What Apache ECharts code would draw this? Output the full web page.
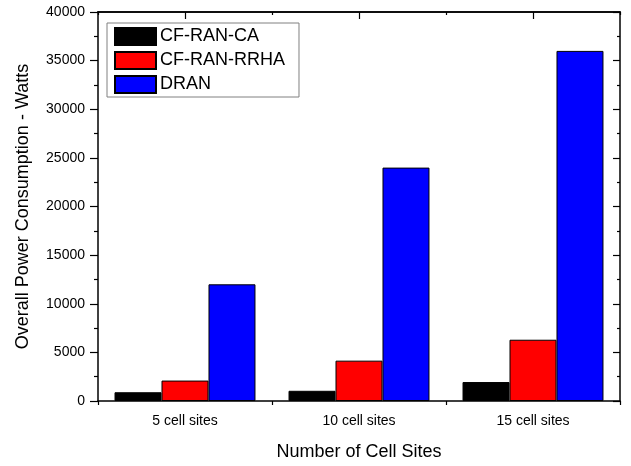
<!DOCTYPE html>
<html>
<head>
<meta charset="utf-8">
<script src="https://cdn.jsdelivr.net/npm/echarts@6/dist/echarts.min.js"></script>
<style>
  html, body { margin: 0; padding: 0; background: #fff; }
  #chart { width: 631px; height: 466px; }
</style>
</head>
<body>
<div id="chart"></div>
<script>
// data
const categories = ['5 cell sites', '10 cell sites', '15 cell sites'];
const seriesNames = ['CF-RAN-CA', 'CF-RAN-RRHA', 'DRAN'];
const caValues = [900, 1050, 1950];
const rrhaValues = [2100, 4150, 6300];
const dranValues = [12000, 24000, 36000];
const colors = ['#000000', '#ff0000', '#0000ff'];

const font = 'Liberation Sans, Arial, sans-serif';
const chart = echarts.init(document.getElementById('chart'));

const hidden = { show: false };
// extra category axes, only for the small ticks on the frame
function extraX(position, align, len, inside) {
  return {
    type: 'category', data: categories, position: position,
    axisLine: { show: position === 'top', lineStyle: { color: '#000', width: 1.5 } },
    axisLabel: hidden, splitLine: hidden,
    axisTick: { show: true, alignWithLabel: align, inside: inside, length: len, lineStyle: { color: '#000', width: 1.2 } }
  };
}

const mkSeries = (name, data, i) => ({
  name: name,
  type: 'bar',
  data: data,
  barGap: '0%',
  barCategoryGap: '19%',
  itemStyle: { color: colors[i], borderColor: '#000', borderWidth: 1 }
});

const option = {
  animation: false,
  backgroundColor: '#fff',
  textStyle: { fontFamily: font },
  grid: { left: 98, right: 11, top: 12, bottom: 64, containLabel: false },
  legend: {
    orient: 'vertical',
    left: 107, top: 23,
    data: seriesNames,
    icon: 'rect',
    itemWidth: 41, itemHeight: 17, itemGap: 5,
    padding: [4, 14, 3, 7],
    borderColor: '#808080', borderWidth: 1,
    textStyle: { fontFamily: font, fontSize: 18, color: '#000', lineHeight: 17, padding: [0, 0, 0, -1] }
  },
  xAxis: [
    {
      type: 'category', data: categories, position: 'bottom',
      name: 'Number of Cell Sites', nameLocation: 'middle', nameGap: 42,
      nameTextStyle: { fontFamily: font, fontSize: 18, color: '#000' },
      axisLine: { lineStyle: { color: '#000', width: 1.5 } },
      axisTick: { alignWithLabel: true, length: 8, lineStyle: { color: '#000', width: 1.2 } },
      axisLabel: { fontFamily: font, fontSize: 14, color: '#000', margin: 13 },
      splitLine: hidden
    },
    extraX('bottom', false, 4, false),
    extraX('top', true, 7, true),
    extraX('top', false, 3, true)
  ],
  yAxis: [
    {
      type: 'value', min: 0, max: 40000, interval: 5000, position: 'left',
      name: 'Overall Power Consumption - Watts', nameLocation: 'middle', nameGap: 66,
      nameTextStyle: { fontFamily: font, fontSize: 18, color: '#000' },
      axisLine: { show: true, lineStyle: { color: '#000', width: 1.5 } },
      axisTick: { show: true, length: 8, lineStyle: { color: '#000', width: 1.2 } },
      minorTick: { show: true, splitNumber: 2, length: 4, lineStyle: { color: '#000', width: 1.2 } },
      axisLabel: { fontFamily: font, fontSize: 14, color: '#000', margin: 13, formatter: v => String(v) },
      splitLine: hidden
    },
    {
      type: 'value', min: 0, max: 40000, interval: 5000, position: 'right',
      axisLine: { show: true, lineStyle: { color: '#000', width: 1.5 } },
      axisTick: { show: true, inside: true, length: 7, lineStyle: { color: '#000', width: 1.2 } },
      minorTick: { show: true, splitNumber: 2, length: 3, lineStyle: { color: '#000', width: 1.2 } },
      axisLabel: hidden,
      splitLine: hidden
    }
  ],
  series: [
    mkSeries(seriesNames[0], caValues, 0),
    mkSeries(seriesNames[1], rrhaValues, 1),
    mkSeries(seriesNames[2], dranValues, 2)
  ]
};

chart.setOption(option);
</script>
</body>
</html>
